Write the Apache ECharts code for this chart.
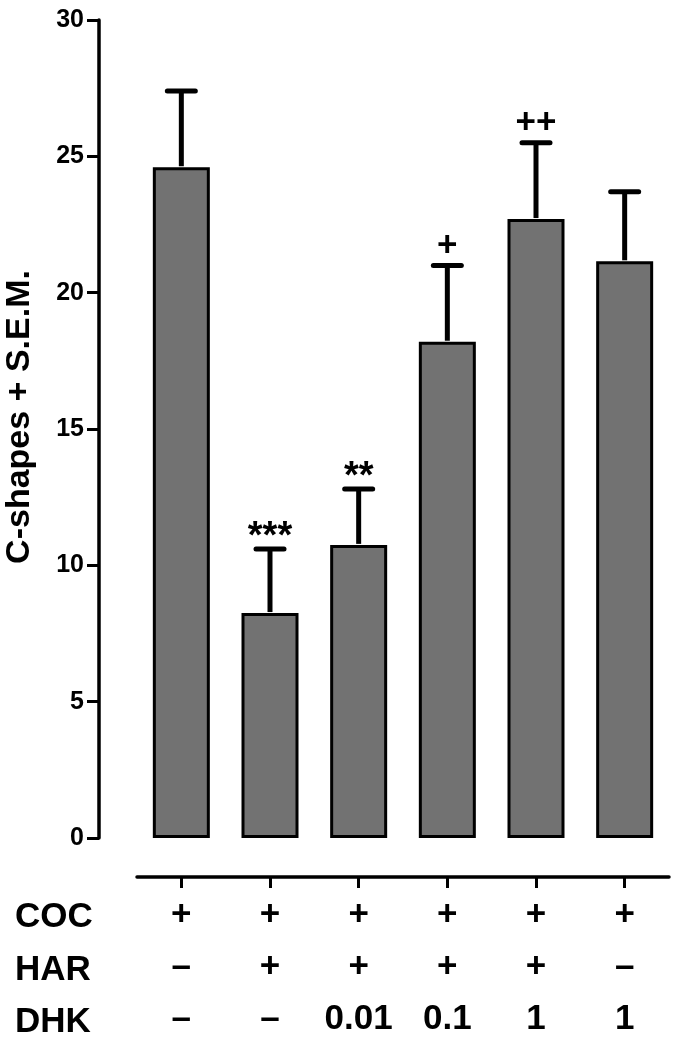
<!DOCTYPE html>
<html>
<head>
<meta charset="utf-8">
<script src="https://cdn.jsdelivr.net/npm/echarts@6/dist/echarts.min.js"></script>
<style>
html,body{margin:0;padding:0;background:#fff;}
#chart{width:685px;height:1050px;}
</style>
</head>
<body>
<div id="chart"></div>
<script>
// ---- data ----
var categories = ['G1', 'G2', 'G3', 'G4', 'G5', 'G6'];
var means = [24.6, 8.25, 10.75, 18.2, 22.7, 21.15];
var sems = [2.8, 2.35, 2.05, 2.8, 2.8, 2.55];
var sigLabels = ['', '***', '**', '+', '++', ''];
var cocRow = ['+', '+', '+', '+', '+', '+'];
var harRow = ['\u2013', '+', '+', '+', '+', '\u2013'];
var dhkRow = ['\u2013', '\u2013', '0.01', '0.1', '1', '1'];
var rowNames = ['COC', 'HAR', 'DHK'];
var yAxisTitle = 'C-shapes + S.E.M.';

var FONT = '"Liberation Sans", Arial, Helvetica, sans-serif';
var chart = echarts.init(document.getElementById('chart'));

var errData = means.map(function (m, i) { return [i, m, m + sems[i], sigLabels[i]]; });

var rowY = [920, 973, 1025];
var graphics = rowNames.map(function (n, i) {
  return {
    type: 'text', left: 15, top: rowY[i] - 20,
    style: { text: n, font: 'bold 35px ' + FONT, fill: '#000' }
  };
});
graphics.push({
  type: 'text', x: 20, y: 417, rotation: Math.PI / 2,
  style: { text: yAxisTitle, font: 'bold 34px ' + FONT, fill: '#000', align: 'center', verticalAlign: 'middle' }
});

chart.setOption({
  animation: false,
  backgroundColor: '#ffffff',
  grid: { left: 137, right: 16, top: 20, bottom: 212, containLabel: false },
  xAxis: {
    type: 'category',
    data: categories,
    offset: 39,
    axisLine: { show: true, onZero: false, lineStyle: { color: '#000', width: 3.5 } },
    axisTick: { show: true, alignWithLabel: true, length: 11, lineStyle: { color: '#000', width: 3 } },
    axisLabel: {
      margin: 12,
      interval: 0,
      fontFamily: FONT, fontWeight: 'bold', fontSize: 35, lineHeight: 52, color: '#000',
      formatter: function (v, i) { return cocRow[i] + '\n' + harRow[i] + '\n' + dhkRow[i]; }
    },
    splitLine: { show: false }
  },
  yAxis: {
    type: 'value',
    min: 0, max: 30, interval: 5,
    offset: 38,
    axisLine: { show: true, onZero: false, lineStyle: { color: '#000', width: 3.5 } },
    axisTick: { show: true, length: 12, lineStyle: { color: '#000', width: 3 } },
    axisLabel: { margin: 15, fontFamily: FONT, fontWeight: 'bold', fontSize: 25, color: '#000' },
    splitLine: { show: false }
  },
  graphic: graphics,
  series: [
    {
      type: 'bar',
      data: means,
      barWidth: 57,
      itemStyle: { color: '#727272', borderColor: '#000', borderWidth: 3 },
      z: 2
    },
    {
      type: 'custom',
      data: errData,
      z: 3,
      renderItem: function (params, api) {
        var x = api.coord([api.value(0), api.value(1)])[0];
        var yLow = api.coord([api.value(0), api.value(1)])[1];
        var yHigh = api.coord([api.value(0), api.value(2)])[1];
        var lab = sigLabels[params.dataIndex];
        var children = [
          { type: 'line', shape: { x1: x, y1: yLow - 1, x2: x, y2: yHigh }, style: { stroke: '#000', lineWidth: 5 } },
          { type: 'line', shape: { x1: x - 14, y1: yHigh, x2: x + 14, y2: yHigh }, style: { stroke: '#000', lineWidth: 5, lineCap: 'round' } }
        ];
        if (lab) {
          var isStar = lab.indexOf('*') >= 0;
          children.push({
            type: 'text',
            style: {
              text: lab, x: x, y: isStar ? yHigh + 8 : yHigh - 2,
              align: 'center', verticalAlign: 'bottom',
              font: 'bold ' + (isStar ? 38 : 35) + 'px ' + FONT, fill: '#000'
            }
          });
        }
        return { type: 'group', children: children };
      }
    }
  ]
});
</script>
</body>
</html>
